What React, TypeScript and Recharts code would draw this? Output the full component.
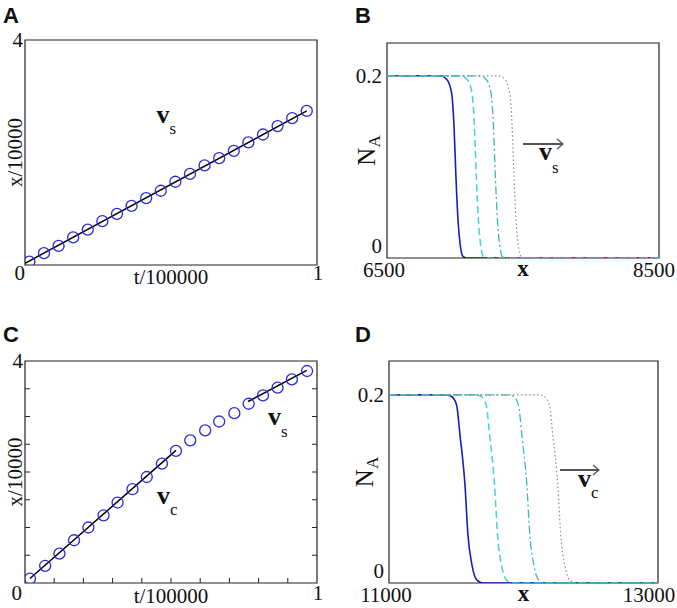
import React from "react";
import { LineChart, Line, XAxis, YAxis, ReferenceArea, ReferenceDot } from "recharts";

const SERIF = "'Liberation Serif', 'Times New Roman', Times, serif";
const SANS = "'Liberation Sans', Arial, sans-serif";
const INK = "#111";
const BOX = "#222";
const CIRCLE = "#2a2ad8";
const FRONT = "#1d1db4";
const CYAN = "#46d3d3";
const TEAL = "#36baba";
const GREY = "#8c8c8c";
const ARROW = "#555";

// panel A: front position vs time, single speed
const timeA = [0.015, 0.065, 0.115, 0.165, 0.215, 0.265, 0.315, 0.365, 0.415, 0.465, 0.515, 0.565, 0.615, 0.665, 0.715, 0.765, 0.815, 0.865, 0.915, 0.965];
const posA = [0.06, 0.21, 0.34, 0.49, 0.63, 0.78, 0.91, 1.05, 1.19, 1.32, 1.48, 1.62, 1.77, 1.9, 2.03, 2.18, 2.32, 2.47, 2.61, 2.74];
const fitTimeA = [0.0, 0.965];
const fitPosA = [0.03, 2.74];

// panel C: front position vs time, speed changes from v_c to v_s
const timeC = [0.017, 0.069, 0.118, 0.168, 0.217, 0.269, 0.317, 0.368, 0.417, 0.469, 0.517, 0.566, 0.617, 0.665, 0.717, 0.766, 0.815, 0.865, 0.914, 0.966];
const posC = [0.08, 0.31, 0.53, 0.77, 1.0, 1.22, 1.45, 1.69, 1.91, 2.15, 2.38, 2.57, 2.75, 2.91, 3.06, 3.23, 3.38, 3.52, 3.67, 3.82];
const fitTimeC1 = [0.017, 0.517];
const fitPosC1 = [0.08, 2.39];
const fitTimeC2 = [0.764, 0.965];
const fitPosC2 = [3.27, 3.83];

const tickTA = [0, 1];
const tickXA = [4];
const tickTC = [0, 0.1, 0.2, 0.3, 0.4, 0.5, 0.6, 0.7, 0.8, 0.9, 1];
const tickXC = [0, 0.5, 1, 1.5, 2, 2.5, 3, 3.5, 4];

// panel B: N_A profiles at four times
const naB = [0.2, 0.2, 0.196, 0.181, 0.144, 0.089, 0.042, 0.016, 0.002, 0, 0];
const xB1 = [6500, 6890, 6940, 6975, 6993, 7007, 7022, 7037, 7057, 7085, 8500];
const xB2 = [6500, 7040, 7090, 7125, 7143, 7157, 7172, 7187, 7207, 7235, 8500];
const xB3 = [6500, 7180, 7230, 7265, 7283, 7297, 7312, 7327, 7347, 7375, 8500];
const xB4 = [6500, 7317, 7367, 7402, 7420, 7434, 7449, 7464, 7484, 7512, 8500];

// panel D
const naD = [0.2, 0.2, 0.198, 0.189, 0.157, 0.104, 0.051, 0.019, 0.003, 0, 0];
const xD1 = [11000, 11431, 11468, 11503, 11528, 11565, 11587, 11617, 11654, 11699, 13000];
const xD2 = [11000, 11651, 11688, 11723, 11748, 11785, 11807, 11837, 11874, 11919, 13000];
const xD3 = [11000, 11891, 11928, 11963, 11988, 12025, 12047, 12077, 12114, 12159, 13000];
const xD4 = [11000, 12121, 12158, 12193, 12218, 12255, 12277, 12307, 12344, 12389, 13000];

const tickNA = [0, 0.2];

const txt = { fontFamily: SERIF, fill: INK };

const sub = (main: string, low: string, dy: number) => (lp: any) => {
  const { x, y } = lp.viewBox;
  return (
    <text x={x} y={y} {...txt}>
      <tspan fontSize={26} fontWeight="bold">{main}</tspan>
      <tspan fontSize={17} dy={dy}>{low}</tspan>
    </text>
  );
};

const arrowNote = (low: string, vdx: number, vdy: number, len: number, dy: number) => (lp: any) => {
  const { x, y } = lp.viewBox;
  return (
    <g>
      <line x1={x} y1={y} x2={x + len} y2={y} stroke={ARROW} strokeWidth={2} />
      <polyline points={`${x + len - 6},${y - 5} ${x + len},${y} ${x + len - 6},${y + 5}`} fill="none" stroke={ARROW} strokeWidth={1.3} />
      <text x={x + vdx} y={y + vdy} {...txt}>
        <tspan fontSize={26} fontWeight="bold">v</tspan>
        <tspan fontSize={17} dy={dy}>{low}</tspan>
      </text>
    </g>
  );
};

type Margin = { top: number; right: number; bottom: number; left: number };

// axes are 1px thick (recharts skips zero-sized axes), so margins are reduced by 1
const trim = (m: Margin): Margin => ({ top: m.top, right: m.right, bottom: m.bottom - 1, left: m.left - 1 });

function TimePanel(props: {
  width: number;
  height: number;
  margin: Margin;
  times: number[];
  pos: number[];
  fits: { t: number[]; x: number[] }[];
  xTicks: number[];
  yTicks: number[];
  marks: boolean;
  zeroDx: number;
  tickDy: number;
  titleDy: number;
  notes: { t: number; x: number; render: (lp: any) => React.ReactNode }[];
}) {
  const { width, height, margin, marks } = props;
  const plotW = width - margin.left - margin.right;
  const plotH = height - margin.top - margin.bottom;
  const circles = props.times.map((t, i) => ({ t, x: props.pos[i] }));

  const xTick = (p: any) => {
    const v = Number(p.payload.value);
    const inner = marks && v > 0 && v < 1;
    return (
      <g>
        {inner ? <path d={`M${p.x},${p.y}V${p.y - 5}`} stroke={BOX} strokeWidth={1} fill="none" /> : null}
        {v === 0 ? (
          <text x={p.x + props.zeroDx} y={p.y + props.tickDy} textAnchor="end" fontSize={21} {...txt}>0</text>
        ) : null}
        {v === 1 ? (
          <text x={p.x + 1} y={p.y + props.tickDy} textAnchor="middle" fontSize={21} {...txt}>1</text>
        ) : null}
      </g>
    );
  };
  const yTick = (p: any) => {
    const v = p.payload.value;
    return (
      <g>
        {marks && v > 0 && v < 4 && (
          <>
            <line x1={p.x} x2={p.x + 5} y1={p.y} y2={p.y} stroke={BOX} />
            <line x1={p.x + plotW - 5} x2={p.x + plotW} y1={p.y} y2={p.y} stroke={BOX} />
          </>
        )}
        {v === 4 && (
          <text x={p.x - 2} y={p.y + 7} textAnchor="end" fontSize={21} {...txt}>4</text>
        )}
      </g>
    );
  };

  return (
    <LineChart width={width} height={height} margin={trim(margin)}>
      <XAxis
        type="number"
        dataKey="t"
        domain={[0, 1]}
        allowDataOverflow
        ticks={props.xTicks}
        interval={0}
        height={1}
        axisLine={false}
        tickLine={false}
        tickSize={0}
        tickMargin={0}
        tick={xTick}
        label={{
          content: (lp: any) => {
            const vb = lp.viewBox;
            return (
              <text x={vb.x + vb.width / 2} y={vb.y + props.titleDy} textAnchor="middle" fontSize={21} {...txt}>
                t/100000
              </text>
            );
          },
        }}
      />
      <YAxis
        type="number"
        dataKey="x"
        domain={[0, 4]}
        allowDataOverflow
        ticks={props.yTicks}
        interval={0}
        width={1}
        axisLine={false}
        tickLine={false}
        tickSize={0}
        tickMargin={0}
        tick={yTick}
        label={{
          content: (lp: any) => {
            const vb = lp.viewBox;
            return (
              <text
                transform={`translate(${vb.x + vb.width - 3},${vb.y + plotH / 2}) rotate(-90)`}
                textAnchor="middle"
                fontSize={21}
                {...txt}
              >
                x/10000
              </text>
            );
          },
        }}
      />
      <ReferenceArea x1={0} x2={1} y1={0} y2={4} fill="none" stroke={BOX} strokeWidth={1.2} ifOverflow="visible" />
      <Line
        data={circles}
        dataKey="x"
        stroke="none"
        dot={{ r: 5.5, fill: "none", stroke: CIRCLE, strokeWidth: 1.3 }}
        isAnimationActive={false}
      />
      {props.fits.map((f, k) => (
        <Line
          key={k}
          data={f.t.map((t, i) => ({ t, x: f.x[i] }))}
          dataKey="x"
          stroke="#000"
          strokeWidth={1.5}
          dot={false}
          isAnimationActive={false}
        />
      ))}
      {props.notes.map((n, k) => (
        <ReferenceDot key={k} x={n.t} y={n.x} r={0} fill="none" stroke="none" label={{ content: n.render }} />
      ))}
    </LineChart>
  );
}

function FrontPanel(props: {
  width: number;
  height: number;
  margin: Margin;
  domain: [number, number];
  na: number[];
  xs: number[][];
  titleDy: number;
  tickDy: number;
  rightDx: number;
  nDx: number;
  note: { x: number; y: number; render: (lp: any) => React.ReactNode };
}) {
  const { width, height, margin, domain } = props;
  const styles = [
    { stroke: FRONT, dash: undefined, w: 1.6 },
    { stroke: CYAN, dash: "7 4", w: 1.5 },
    { stroke: TEAL, dash: "8 3 2 3", w: 1.3 },
    { stroke: GREY, dash: "1.5 2.5", w: 1.2 },
  ];
  const xTick = (p: any) => {
    const v = p.payload.value;
    const dx = v === domain[0] ? -3 : props.rightDx;
    return (
      <text x={p.x + dx} y={p.y + props.tickDy} textAnchor="middle" fontSize={21} {...txt}>
        {v}
      </text>
    );
  };
  const yTick = (p: any) => {
    const v = p.payload.value;
    return (
      <text x={p.x - 5} y={v === 0 ? p.y - 5 : p.y + 7} textAnchor="end" fontSize={21} {...txt}>
        {v === 0 ? "0" : "0.2"}
      </text>
    );
  };
  return (
    <LineChart width={width} height={height} margin={trim(margin)}>
      <XAxis
        type="number"
        dataKey="x"
        domain={domain}
        allowDataOverflow
        ticks={domain}
        interval={0}
        height={1}
        axisLine={false}
        tickLine={false}
        tickSize={0}
        tickMargin={0}
        tick={xTick}
        label={{
          content: (lp: any) => {
            const vb = lp.viewBox;
            return (
              <text x={vb.x + vb.width / 2} y={vb.y + props.titleDy} textAnchor="middle" fontSize={23} fontWeight="bold" {...txt}>
                x
              </text>
            );
          },
        }}
      />
      <YAxis
        type="number"
        dataKey="n"
        domain={[0, 0.236]}
        allowDataOverflow
        ticks={tickNA}
        interval={0}
        width={1}
        axisLine={false}
        tickLine={false}
        tickSize={0}
        tickMargin={0}
        tick={yTick}
        label={{
          content: (lp: any) => {
            const vb = lp.viewBox;
            return (
              <text
                transform={`translate(${vb.x + vb.width - props.nDx},${vb.y + vb.height / 2}) rotate(-90)`}
                textAnchor="middle"
                {...txt}
              >
                <tspan fontSize={25}>N</tspan>
                <tspan fontSize={17} dy={5}>A</tspan>
              </text>
            );
          },
        }}
      />
      <ReferenceArea x1={domain[0]} x2={domain[1]} y1={0} y2={0.236} fill="none" stroke={BOX} strokeWidth={1.2} ifOverflow="visible" />
      {props.xs.map((xs, k) => (
        <Line
          key={k}
          data={xs.map((x, i) => ({ x, n: props.na[i] }))}
          dataKey="n"
          type="monotone"
          stroke={styles[k].stroke}
          strokeDasharray={styles[k].dash}
          strokeWidth={styles[k].w}
          dot={false}
          isAnimationActive={false}
        />
      ))}
      <ReferenceDot x={props.note.x} y={props.note.y} r={0} fill="none" stroke="none" label={{ content: props.note.render }} />
    </LineChart>
  );
}

const place = (left: number, top: number): React.CSSProperties => ({ position: "absolute", left, top });

export default function App() {
  return (
    <div style={{ position: "absolute", left: 0, top: 0, width: 677, height: 608, background: "#fff" }}>
      <div style={place(0, 0)}>
        <TimePanel
          width={340}
          height={300}
          margin={{ top: 40, right: 23, bottom: 35, left: 25 }}
          times={timeA}
          pos={posA}
          fits={[{ t: fitTimeA, x: fitPosA }]}
          xTicks={tickTA}
          yTicks={tickXA}
          marks={false}
          zeroDx={0}
          tickDy={15}
          titleDy={19}
          notes={[{ t: 0.45, x: 2.52, render: sub("v", "s", 11) }]}
        />
      </div>
      <div style={place(0, 300)}>
        <TimePanel
          width={340}
          height={308}
          margin={{ top: 61, right: 23, bottom: 25, left: 25 }}
          times={timeC}
          pos={posC}
          fits={[
            { t: fitTimeC1, x: fitPosC1 },
            { t: fitTimeC2, x: fitPosC2 },
          ]}
          xTicks={tickTC}
          yTicks={tickXC}
          marks={true}
          zeroDx={-3}
          tickDy={17}
          titleDy={20}
          notes={[
            { t: 0.832, x: 2.85, render: sub("v", "s", 12) },
            { t: 0.452, x: 1.42, render: sub("v", "c", 11) },
          ]}
        />
      </div>
      <div style={place(340, 0)}>
        <FrontPanel
          width={337}
          height={300}
          margin={{ top: 43, right: 18, bottom: 42, left: 47 }}
          domain={[6500, 8500]}
          na={naB}
          xs={[xB1, xB2, xB3, xB4]}
          titleDy={18}
          tickDy={19}
          rightDx={-5}
          nDx={12}
          note={{ x: 7500, y: 0.125, render: arrowNote("s", 16, 16, 40, 13) }}
        />
      </div>
      <div style={place(340, 300)}>
        <FrontPanel
          width={337}
          height={308}
          margin={{ top: 61, right: 19, bottom: 25, left: 49 }}
          domain={[11000, 13000]}
          na={naD}
          xs={[xD1, xD2, xD3, xD4]}
          titleDy={18}
          tickDy={19}
          rightDx={-9}
          nDx={16}
          note={{ x: 12271, y: 0.12, render: arrowNote("c", 18, 17, 39, 11) }}
        />
      </div>
      <svg width={677} height={608} style={{ position: "absolute", left: 0, top: 0, pointerEvents: "none" }}>
        <g fontFamily={SANS} fontWeight="bold" fontSize={22} fill={INK}>
          <text x={3} y={23}>A</text>
          <text x={355} y={23}>B</text>
          <text x={3} y={342}>C</text>
          <text x={355} y={342}>D</text>
        </g>
      </svg>
    </div>
  );
}
